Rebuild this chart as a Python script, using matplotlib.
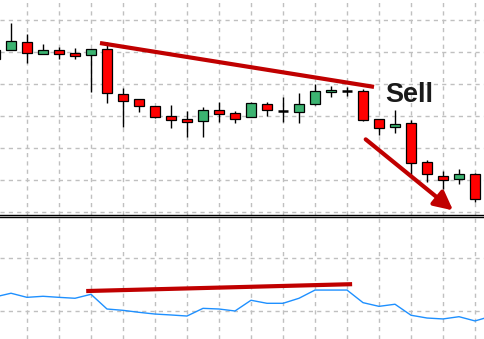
import matplotlib.pyplot as plt

# === DATA ===
# candle index (first one is cut off at the left edge)
idx = list(range(-1, 30))
opens = [150.6, 150.5, 153.0, 149.3, 150.5, 149.7, 149.0, 150.8, 136.9, 135.3, 133.0,
         130.0, 129.0, 128.5, 131.8, 130.9, 129.6, 133.8, 131.7, 131.3, 133.7, 137.4,
         137.9, 137.8, 129.1, 126.5, 127.8, 115.5, 111.2, 110.2, 111.8]
highs = [150.6, 159.2, 155.6, 152.5, 151.5, 151.3, 151.0, 153.1, 138.8, 135.3, 133.0,
         133.4, 131.6, 132.7, 134.3, 131.5, 134.5, 134.4, 135.8, 137.1, 140.0, 139.4,
         139.2, 138.3, 129.1, 131.9, 128.7, 116.2, 112.9, 113.4, 112.1]
lows = [147.8, 150.5, 146.5, 149.3, 147.7, 147.7, 137.6, 134.2, 126.7, 131.3, 129.3,
        126.3, 123.3, 123.3, 128.2, 127.7, 129.6, 130.1, 128.0, 127.7, 133.3, 136.0,
        136.3, 128.3, 124.2, 124.6, 111.6, 109.5, 107.1, 108.8, 103.2]
closes = [147.8, 153.3, 149.6, 150.5, 149.3, 148.7, 150.8, 137.1, 134.8, 133.0, 129.8,
          128.7, 128.2, 131.9, 130.7, 129.0, 134.0, 131.8, 131.7, 133.8, 137.7, 138.0,
          137.9, 128.8, 126.2, 127.5, 115.2, 111.8, 109.9, 111.8, 104.0]

# oscillator in the lower pane (one more point runs off the right edge)
osc_idx = list(range(-1, 31))
osc = [40.6, 43.4, 40.3, 41.1, 40.3, 39.6, 42.6, 31.5, 30.5, 29.0, 27.7, 27.0, 26.2,
       32.0, 31.5, 30.0, 38.1, 35.8, 35.8, 39.6, 45.8, 45.8, 45.8, 36.3, 33.5, 35.1,
       26.8, 24.7, 24.0, 25.7, 22.5, 26.0]

# divergence lines and the sell arrow
price_line_x = [5.69, 22.56]
price_line_y = [152.7, 139.2]
osc_line_x = [4.83, 21.19]
osc_line_y = [45.1, 50.2]
arrow_from = (22.17, 122.7)
arrow_to = (27.63, 100.5)
label_pos = (23.4, 134.5)

RED = '#ff0000'
GREEN = '#3cb371'
DARK_RED = '#c00000'
GRID = '#c0c0c0'

# === FIGURE ===
fig = plt.figure(figsize=(4.85, 3.39), dpi=100)
ax1 = fig.add_axes([0, 124.5 / 339, 1, 214.5 / 339])
ax2 = fig.add_axes([0, 0, 1, 122.5 / 339])

for ax in (ax1, ax2):
    ax.set_xlim(-0.6875, 29.625)
    ax.set_xticks(range(1, 30, 2))
    ax.tick_params(length=0, labelbottom=False, labelleft=False)
    ax.grid(True, color=GRID, linestyle=(0, (3, 3)), linewidth=1)
    ax.set_axisbelow(True)
    for s in ax.spines.values():
        s.set_visible(False)

ax1.spines['bottom'].set_visible(True)
ax1.spines['bottom'].set_linewidth(1)
ax2.spines['top'].set_visible(True)
ax2.spines['top'].set_linewidth(1)

# === CANDLES ===
ax1.set_ylim(99.22, 166.25)
ax1.set_yticks(range(100, 161, 10))
ax1.vlines(idx, lows, highs, color='black', linewidth=1, zorder=2)
for i, o, c in zip(idx, opens, closes):
    if o == c:
        ax1.hlines(o, i - 0.32, i + 0.32, color='black', linewidth=1.8, zorder=3)
    else:
        ax1.bar(i, abs(c - o), bottom=min(o, c), width=0.625,
                color=GREEN if c > o else RED, edgecolor='black',
                linewidth=0.9, zorder=3)

ax1.plot(price_line_x, price_line_y, color=DARK_RED, linewidth=3, zorder=4)
ax1.annotate('', xy=arrow_to, xytext=arrow_from,
             arrowprops=dict(arrowstyle='-|>', color=DARK_RED, lw=3,
                             mutation_scale=28, shrinkA=0, shrinkB=0),
             zorder=4)
ax1.text(label_pos[0], label_pos[1], 'Sell', fontsize=19.5, fontweight='bold',
         family='Liberation Sans', color='#1a1a1a', ha='left', va='baseline')

# === OSCILLATOR ===
ax2.set_ylim(8.87, 101.3)
ax2.set_yticks([30, 70])
ax2.plot(osc_idx, osc, color='#1e90ff', linewidth=1)
ax2.plot(osc_line_x, osc_line_y, color=DARK_RED, linewidth=3)

fig.savefig('out.png', dpi=100)
